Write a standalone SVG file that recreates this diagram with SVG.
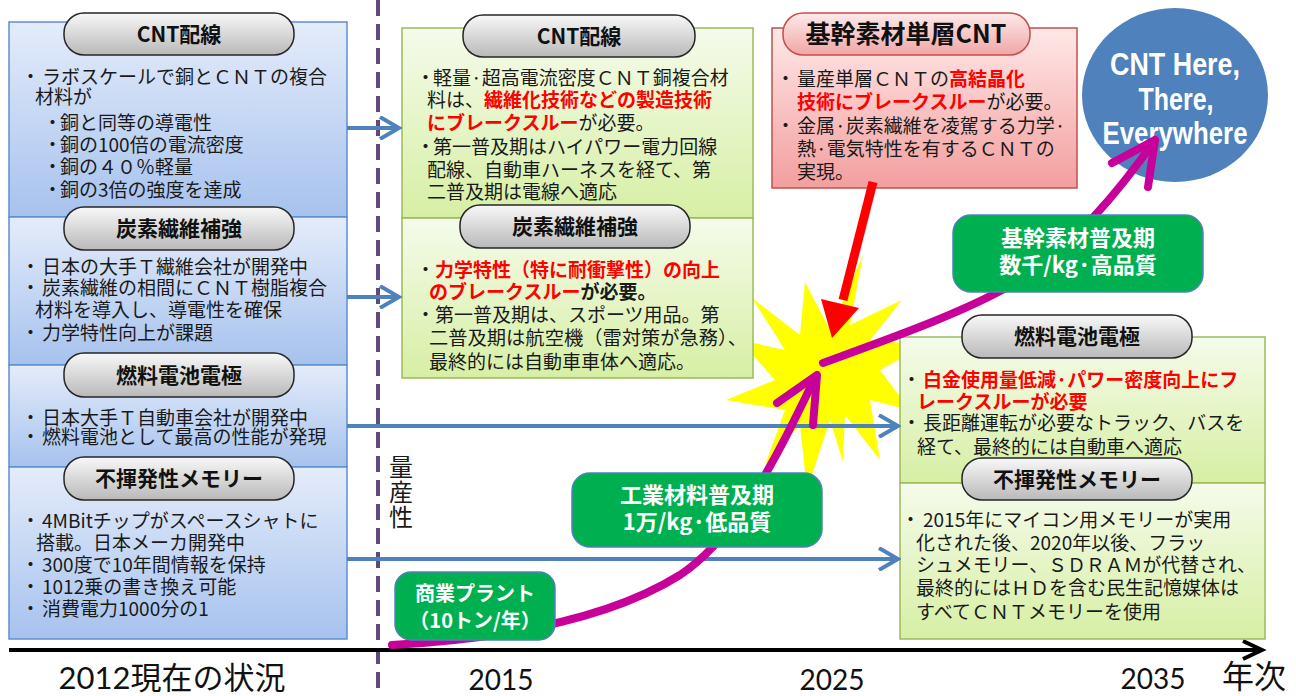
<svg xmlns="http://www.w3.org/2000/svg" width="1296" height="696" viewBox="0 0 1296 696">
<defs>
<linearGradient id="gBlue" x1="0" y1="0" x2="0" y2="1"><stop offset="0" stop-color="#e4ecfa"/><stop offset="1" stop-color="#a6c2ee"/></linearGradient>
<linearGradient id="gGreen" x1="0" y1="0" x2="0" y2="1"><stop offset="0" stop-color="#f5fbeb"/><stop offset="1" stop-color="#d6efa4"/></linearGradient>
<linearGradient id="gRed" x1="0" y1="0" x2="0" y2="1"><stop offset="0" stop-color="#ffe8e8"/><stop offset="1" stop-color="#f39e9e"/></linearGradient>
<linearGradient id="gPill" x1="0" y1="0" x2="0" y2="1"><stop offset="0" stop-color="#f8f8f8"/><stop offset="1" stop-color="#b9b9b9"/></linearGradient>
<linearGradient id="gPillRed" x1="0" y1="0" x2="0" y2="1"><stop offset="0" stop-color="#fdeaea"/><stop offset="1" stop-color="#f1a5a5"/></linearGradient>
<marker id="ab" viewBox="0 0 24 24" refX="21" refY="12" markerWidth="24" markerHeight="24" markerUnits="userSpaceOnUse" orient="auto">
<polyline points="2,1 21,12 2,23" fill="none" stroke="#4f81bd" stroke-width="4" stroke-linejoin="miter"/>
</marker>
</defs>
<style>
.blue{fill:url(#gBlue);stroke:#5f8fcf;stroke-width:1.5}
.green{fill:url(#gGreen);stroke:#9bbb59;stroke-width:1.5}
.redbox{fill:url(#gRed);stroke:#c0504d;stroke-width:1.5}
.pill{fill:url(#gPill);stroke:#262626;stroke-width:1.5}
.pillred{fill:url(#gPillRed);stroke:#c0504d;stroke-width:1.5}
.gbox{fill:#00b050;stroke:#4f81bd;stroke-width:1.5}
.t{font-family:"Noto Sans CJK JP","Noto Sans CJK SC",sans-serif;font-size:19px;fill:#1a1a1a}
.r{fill:#ff0000;font-weight:bold}
.b{font-weight:bold}
.pt{font-family:"Noto Sans CJK JP","Noto Sans CJK SC",sans-serif;font-size:21px;font-weight:bold;fill:#111;text-anchor:middle}
.gt{font-family:"Noto Sans CJK JP","Noto Sans CJK SC",sans-serif;font-size:22px;font-weight:bold;fill:#ffffff;text-anchor:middle}
.ct{font-family:"Liberation Sans",Arial,sans-serif;font-size:32px;font-weight:bold;fill:#ffffff;text-anchor:middle}
.yr{font-family:Lato,"Noto Sans CJK JP",sans-serif;font-size:28px;fill:#111;text-anchor:middle}
.blueline{fill:none;stroke:#4f81bd;stroke-width:4}
.mag{fill:none;stroke:#c8009a;stroke-width:8;stroke-linecap:round;stroke-linejoin:round}
</style>
<rect width="1296" height="696" fill="#ffffff"/>

<g id="burst">
<polygon fill="#ffff00" points="863,255 850,325 902,300 870,340 925,345 880,370 910,410 870,400 880,460 845,415 843,462 830,420 807,490 800,425 765,465 785,410 726,400 775,380 740,340 785,350 752,298 800,335 805,282 830,330"/>
</g>

<g id="divider">
<line x1="378" y1="0" x2="378" y2="696" stroke="#604a7b" stroke-width="4" stroke-dasharray="16 8"/>
</g>

<g id="axis">
<line x1="9" y1="650" x2="1260" y2="650" stroke="#000" stroke-width="4"/>
<polyline points="1243,641 1262,650 1243,659" fill="none" stroke="#000" stroke-width="4"/>
<text x="172" y="689" class="yr" style="font-size:31px">2012現在の状況</text>
<text x="501" y="690" class="yr">2015</text>
<text x="832" y="690" class="yr">2025</text>
<text x="1153" y="689" class="yr">2035</text>
<text x="1254" y="688" class="yr" style="font-family:'Noto Sans CJK JP',sans-serif;font-size:32px">年次</text>
</g>

<g id="axis-label">
<text class="t" x="401" y="455" writing-mode="vertical-rl" style="font-size:24px;letter-spacing:1px">量産性</text>
</g>

<g id="left-cnt">
<rect class="blue" x="9" y="22" width="338" height="195"/>
<rect class="pill" x="64" y="13" width="230" height="42" rx="20"/>
<text class="pt" x="179" y="42">CNT配線</text>
<text class="t" y="84"><tspan x="21">・</tspan><tspan x="42">ラボスケールで銅とＣＮＴの複合</tspan></text>
<text class="t" x="35" y="104">材料が</text>
<text class="t" y="130"><tspan x="43">・</tspan><tspan x="60">銅と同等の導電性</tspan></text>
<text class="t" y="152"><tspan x="43">・</tspan><tspan x="60">銅の100倍の電流密度</tspan></text>
<text class="t" y="174"><tspan x="43">・</tspan><tspan x="60">銅の４０％軽量</tspan></text>
<text class="t" y="197"><tspan x="43">・</tspan><tspan x="60">銅の3倍の強度を達成</tspan></text>
</g>

<g id="left-cf">
<rect class="blue" x="9" y="217" width="338" height="148"/>
<rect class="pill" x="64" y="207" width="230" height="43" rx="20"/>
<text class="pt" x="179" y="236">炭素繊維補強</text>
<text class="t" y="274"><tspan x="21">・</tspan><tspan x="42">日本の大手Ｔ繊維会社が開発中</tspan></text>
<text class="t" y="295"><tspan x="21">・</tspan><tspan x="42">炭素繊維の相間にＣＮＴ樹脂複合</tspan></text>
<text class="t" x="35" y="317">材料を導入し、導電性を確保</text>
<text class="t" y="340"><tspan x="21">・</tspan><tspan x="42">力学特性向上が課題</tspan></text>
</g>

<g id="left-fc">
<rect class="blue" x="9" y="365" width="338" height="102"/>
<rect class="pill" x="64" y="353" width="230" height="44" rx="20"/>
<text class="pt" x="179" y="383">燃料電池電極</text>
<text class="t" y="425"><tspan x="21">・</tspan><tspan x="42">日本大手Ｔ自動車会社が開発中</tspan></text>
<text class="t" y="444"><tspan x="21">・</tspan><tspan x="42">燃料電池として最高の性能が発現</tspan></text>
</g>

<g id="left-mem">
<rect class="blue" x="9" y="467" width="338" height="172"/>
<rect class="pill" x="64" y="457" width="230" height="43" rx="20"/>
<text class="pt" x="179" y="486">不揮発性メモリー</text>
<text class="t" y="528"><tspan x="21">・</tspan><tspan x="42">4MBitチップがスペースシャトに</tspan></text>
<text class="t" x="36" y="550">搭載。日本メーカ開発中</text>
<text class="t" y="572"><tspan x="21">・</tspan><tspan x="42">300度で10年間情報を保持</tspan></text>
<text class="t" y="594"><tspan x="21">・</tspan><tspan x="42">1012乗の書き換え可能</tspan></text>
<text class="t" y="616"><tspan x="21">・</tspan><tspan x="42">消費電力1000分の1</tspan></text>
</g>

<g id="mid-cnt">
<rect class="green" x="402" y="28" width="351" height="190"/>
<rect class="pill" x="463" y="15" width="232" height="42" rx="20"/>
<text class="pt" x="579" y="44">CNT配線</text>
<text class="t" y="85"><tspan x="416">・</tspan><tspan x="433">軽量·超高電流密度ＣＮＴ銅複合材</tspan></text>
<text class="t" y="107"><tspan x="427">料は、</tspan><tspan class="r">繊維化技術などの製造技術</tspan></text>
<text class="t" y="130"><tspan x="427" class="r">にブレークスルー</tspan><tspan>が必要。</tspan></text>
<text class="t" y="154"><tspan x="416">・</tspan><tspan x="433">第一普及期はハイパワー電力回線</tspan></text>
<text class="t" x="427" y="177">配線、自動車ハーネスを経て、第</text>
<text class="t" x="427" y="199">二普及期は電線へ適応</text>
</g>

<g id="mid-cf">
<rect class="green" x="402" y="218" width="351" height="160"/>
<rect class="pill" x="460" y="205" width="230" height="43" rx="20"/>
<text class="pt" x="575" y="234">炭素繊維補強</text>
<text class="t" y="277"><tspan x="416">・</tspan><tspan x="435" class="r">力学特性（特に耐衝撃性）の向上</tspan></text>
<text class="t" y="299"><tspan x="429" class="r">のブレークスルー</tspan><tspan class="b">が必要。</tspan></text>
<text class="t" y="322"><tspan x="416">・</tspan><tspan x="435">第一普及期は、スポーツ用品。第</tspan></text>
<text class="t" x="429" y="345" textLength="318" lengthAdjust="spacingAndGlyphs">二普及期は航空機（雷対策が急務）、</text>
<text class="t" x="429" y="369">最終的には自動車車体へ適応。</text>
</g>

<g id="core-cnt">
<rect class="redbox" x="772" y="28" width="305" height="160"/>
<rect class="pillred" x="783" y="13" width="247" height="42" rx="20"/>
<text class="pt" x="906" y="43" style="font-size:25px">基幹素材単層CNT</text>
<text class="t" y="86"><tspan x="776">・</tspan><tspan x="797">量産単層ＣＮＴの</tspan><tspan class="r">高結晶化</tspan></text>
<text class="t" y="109"><tspan x="797" class="r">技術にブレークスルー</tspan><tspan>が必要。</tspan></text>
<text class="t" y="133"><tspan x="776">・</tspan><tspan x="797">金属·炭素繊維を凌駕する力学·</tspan></text>
<text class="t" x="797" y="156">熱·電気特性を有するＣＮＴの</text>
<text class="t" x="797" y="179">実現。</text>
</g>

<g id="right-fc">
<rect class="green" x="900" y="337" width="365" height="146"/>
<rect class="pill" x="962" y="315" width="230" height="43" rx="20"/>
<text class="pt" x="1077" y="344">燃料電池電極</text>
<text class="t" y="387"><tspan x="902">・</tspan><tspan x="923" class="r">白金使用量低減·パワー密度向上にフ</tspan></text>
<text class="t r" x="917" y="409">レークスルーが必要</text>
<text class="t" y="430"><tspan x="902">・</tspan><tspan x="923">長距離運転が必要なトラック、バスを</tspan></text>
<text class="t" x="917" y="454">経て、最終的には自動車へ適応</text>
</g>

<g id="right-mem">
<rect class="green" x="900" y="483" width="365" height="156"/>
<rect class="pill" x="962" y="458" width="230" height="42" rx="20"/>
<text class="pt" x="1077" y="487">不揮発性メモリー</text>
<text class="t" y="527"><tspan x="901">・</tspan><tspan x="923">2015年にマイコン用メモリーが実用</tspan></text>
<text class="t" x="916" y="550">化された後、2020年以後、フラッ</text>
<text class="t" x="916" y="572" textLength="340" lengthAdjust="spacingAndGlyphs">シュメモリー、ＳＤＲＡＭが代替され、</text>
<text class="t" x="916" y="595">最終的にはＨＤを含む民生記憶媒体は</text>
<text class="t" x="916" y="619">すべてＣＮＴメモリーを使用</text>
</g>

<g id="goal">
<ellipse cx="1175" cy="95" rx="93" ry="87" fill="#4f81bd"/>
<text class="ct" x="1175" y="75" textLength="130" lengthAdjust="spacingAndGlyphs">CNT Here,</text>
<text class="ct" x="1176" y="110" textLength="75" lengthAdjust="spacingAndGlyphs">There,</text>
<text class="ct" x="1175" y="144" textLength="145" lengthAdjust="spacingAndGlyphs">Everywhere</text>
</g>

<g id="connectors">
<line class="blueline" x1="347" y1="128" x2="399" y2="128" marker-end="url(#ab)"/>
<line class="blueline" x1="347" y1="297" x2="399" y2="297" marker-end="url(#ab)"/>
<line class="blueline" x1="347" y1="426" x2="898" y2="426" marker-end="url(#ab)"/>
<line class="blueline" x1="347" y1="559" x2="898" y2="559" marker-end="url(#ab)"/>
<path class="mag" d="M392,645 C480,640 600,625 680,575 C740,535 780,450 815,378"/>
<polyline class="mag" points="777,403 817,375 813,425"/>
<path class="mag" d="M823,363 C900,335 970,310 1020,280 C1070,250 1120,190 1155,140"/>
<polyline class="mag" points="1112,163 1155,140 1148,187"/>
<line x1="873" y1="182" x2="843" y2="300" stroke="#ff0000" stroke-width="9"/>
<polygon points="832,338 821,299 859,308" fill="#ff0000"/>
</g>

<g id="phase-plant">
<rect class="gbox" x="395" y="572" width="160" height="68" rx="16"/>
<text class="gt" x="475" y="601" style="font-size:20px">商業プラント</text>
<text class="gt" x="475" y="628" style="font-size:20px">（10トン/年）</text>
</g>

<g id="phase-industrial">
<rect class="gbox" x="572" y="473" width="250" height="74" rx="18"/>
<text class="gt" x="697" y="503">工業材料普及期</text>
<text class="gt" x="697" y="530">1万/kg·低品質</text>
</g>

<g id="phase-core">
<rect class="gbox" x="953" y="215" width="250" height="77" rx="18"/>
<text class="gt" x="1078" y="246">基幹素材普及期</text>
<text class="gt" x="1078" y="273">数千/kg·高品質</text>
</g>
</svg>
